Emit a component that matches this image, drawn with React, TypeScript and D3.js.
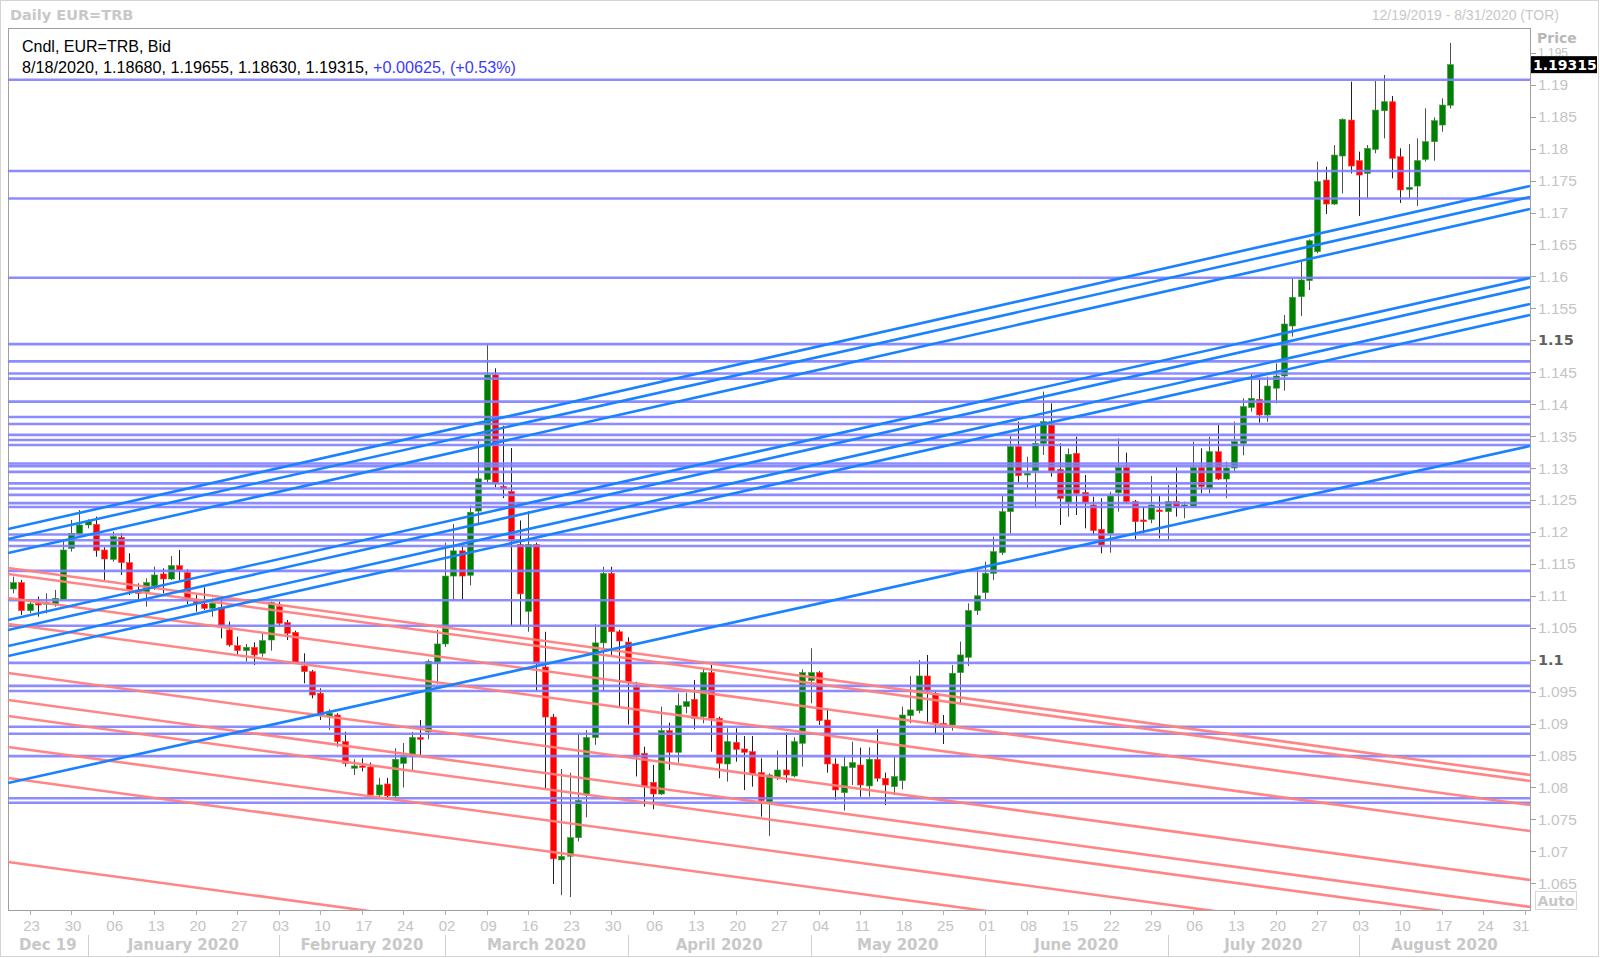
import React from "react";
import * as d3 from "d3";

// ---- Candle data (EUR=TRB daily, 12/19/2019 .. 8/18/2020), one entry per weekday ----
const opens = [
  1.11107, 1.11206, 1.10768, 1.10882, 1.10872, 1.10872, 1.10945, 1.11743, 1.11968, 1.12109,
  1.12119, 1.11717, 1.11571, 1.11916, 1.11519, 1.11091, 1.11065, 1.11154, 1.11342, 1.11263,
  1.11472, 1.11362, 1.10908, 1.10872, 1.10804, 1.10815, 1.10465, 1.1022, 1.10141, 1.10193,
  1.101, 1.10308, 1.1083, 1.1058, 1.10428, 1.09901, 1.09813, 1.09474, 1.09108, 1.09134,
  1.08717, 1.083, 1.08336, 1.0832, 1.07882, 1.08054, 1.07867, 1.08376, 1.08492, 1.08782,
  1.08869, 1.09944, 1.10246, 1.11309, 1.11704, 1.11321, 1.12326, 1.12819, 1.14458, 1.12715,
  1.12634, 1.11803, 1.10757, 1.11803, 1.09886, 1.09102, 1.06865, 1.06923, 1.07213, 1.07882,
  1.08782, 1.10263, 1.1135, 1.10437, 1.10275, 1.09566, 1.08534, 1.0808, 1.07897, 1.08889,
  1.0855, 1.09265, 1.09379, 1.09108, 1.09797, 1.09082, 1.08367, 1.08706, 1.08602, 1.0856,
  1.08231, 1.07777, 1.08158, 1.08273, 1.08179, 1.08691, 1.09672, 1.09797, 1.09056, 1.08367,
  1.07918, 1.0831, 1.08351, 1.08023, 1.0844, 1.08143, 1.08012, 1.08106, 1.09124, 1.09202,
  1.09745, 1.09473, 1.09004, 1.08978, 1.09797, 1.10037, 1.10767, 1.1105, 1.11352, 1.11675,
  1.12317, 1.13335, 1.12891, 1.12954, 1.13387, 1.13673, 1.1298, 1.12458, 1.1323, 1.1262,
  1.12421, 1.12041, 1.11978, 1.12614, 1.13006, 1.12474, 1.12187, 1.12197, 1.12343, 1.12317,
  1.12474, 1.12395, 1.12395, 1.13006, 1.12682, 1.13256, 1.12828, 1.13, 1.13387, 1.1395,
  1.14076, 1.1383, 1.1425, 1.14441, 1.15224, 1.15683, 1.15933, 1.16387, 1.17509, 1.17133,
  1.17885, 1.18448, 1.17812, 1.17613, 1.17989, 1.18594, 1.18735, 1.17874, 1.17363, 1.17415,
  1.17832, 1.18109, 1.1837, 1.1868,
];
const highs = [
  1.113, 1.11248, 1.10908, 1.10987, 1.11039, 1.11091, 1.11848, 1.12187, 1.12343, 1.12197,
  1.12239, 1.1176, 1.12004, 1.11978, 1.11665, 1.11195, 1.11274, 1.11456, 1.1143, 1.11623,
  1.11717, 1.11415, 1.11013, 1.11133, 1.10961, 1.10997, 1.10595, 1.10361, 1.10246, 1.10272,
  1.10413, 1.10908, 1.10908, 1.10621, 1.10454, 1.101, 1.09839, 1.09552, 1.09223, 1.09161,
  1.08873, 1.0844, 1.08456, 1.0839, 1.0815, 1.0815, 1.08613, 1.08695, 1.08869, 1.09055,
  1.10002, 1.10467, 1.11832, 1.12123, 1.11832, 1.12413, 1.13458, 1.1495, 1.14562, 1.13662,
  1.13313, 1.1218, 1.12326, 1.11832, 1.10437, 1.0915, 1.08288, 1.0823, 1.0884, 1.08898,
  1.10554, 1.11454, 1.11454, 1.10467, 1.1035, 1.09653, 1.08638, 1.08351, 1.09264, 1.09014,
  1.09473, 1.09483, 1.09682, 1.09864, 1.09917, 1.09108, 1.08926, 1.08926, 1.08805, 1.08805,
  1.08456, 1.08221, 1.08576, 1.08858, 1.08784, 1.0985, 1.10178, 1.0982, 1.09238, 1.08456,
  1.08482, 1.08717, 1.08623, 1.08628, 1.0891, 1.08231, 1.08482, 1.09265, 1.09745, 1.09995,
  1.10074, 1.095, 1.09134, 1.09917, 1.10283, 1.10882, 1.1143, 1.11535, 1.11926, 1.12562,
  1.13501, 1.13726, 1.13178, 1.13673, 1.14196, 1.14013, 1.13387, 1.13308, 1.13491, 1.12891,
  1.12552, 1.12526, 1.1263, 1.13465, 1.13241, 1.125, 1.12395, 1.12875, 1.12562, 1.12734,
  1.13011, 1.12474, 1.13413, 1.13308, 1.13491, 1.13673, 1.131, 1.13726, 1.14091, 1.14472,
  1.14389, 1.1443, 1.14639, 1.15396, 1.1597, 1.16231, 1.1658, 1.17796, 1.17718, 1.18057,
  1.18474, 1.19048, 1.17953, 1.18057, 1.19059, 1.19153, 1.18824, 1.18005, 1.18072, 1.18161,
  1.18631, 1.1849, 1.18788, 1.19655,
];
const lows = [
  1.11039, 1.107, 1.10726, 1.10674, 1.10726, 1.1083, 1.10935, 1.11691, 1.11952, 1.12056,
  1.11613, 1.11248, 1.11535, 1.11326, 1.11013, 1.10935, 1.1083, 1.11091, 1.11039, 1.11248,
  1.11248, 1.10872, 1.10752, 1.10778, 1.10674, 1.10334, 1.10204, 1.10089, 1.09969, 1.09917,
  1.10047, 1.10141, 1.10517, 1.10308, 1.09943, 1.0963, 1.09395, 1.09056, 1.089, 1.08639,
  1.08326, 1.08195, 1.0825, 1.07856, 1.0783, 1.07804, 1.07804, 1.07998, 1.08259, 1.08492,
  1.08753, 1.09624, 1.102, 1.10931, 1.10931, 1.11164, 1.12123, 1.1276, 1.127, 1.12529,
  1.10525, 1.10525, 1.10437, 1.09508, 1.07969, 1.06487, 1.06313, 1.06284, 1.07155, 1.07533,
  1.08666, 1.09508, 1.1006, 1.09247, 1.08985, 1.08172, 1.07699, 1.07658, 1.07882, 1.08273,
  1.08388, 1.0916, 1.0891, 1.09004, 1.0856, 1.08143, 1.08091, 1.08404, 1.07958, 1.08012,
  1.07543, 1.0724, 1.08117, 1.08075, 1.08158, 1.08325, 1.09317, 1.08978, 1.08231, 1.07804,
  1.07637, 1.08038, 1.07855, 1.07855, 1.08091, 1.07725, 1.07882, 1.0797, 1.09004, 1.0916,
  1.09014, 1.08837, 1.0868, 1.08889, 1.09317, 1.099, 1.107, 1.1095, 1.11248, 1.11639,
  1.11978, 1.12761, 1.12682, 1.12395, 1.13204, 1.12865, 1.12108, 1.12239, 1.12265, 1.12056,
  1.11952, 1.11665, 1.11675, 1.12317, 1.12448, 1.11874, 1.11978, 1.12135, 1.119, 1.11874,
  1.12239, 1.12213, 1.12395, 1.12604, 1.12604, 1.12813, 1.1253, 1.1295, 1.132, 1.13883,
  1.1371, 1.13726, 1.14013, 1.14211, 1.15057, 1.1538, 1.15787, 1.16361, 1.16977, 1.17118,
  1.173, 1.17613, 1.16945, 1.17222, 1.17927, 1.18161, 1.17535, 1.1715, 1.17222, 1.17102,
  1.17796, 1.17812, 1.18265, 1.1863,
];
const closes = [
  1.11206, 1.10768, 1.10872, 1.10856, 1.10893, 1.10961, 1.11717, 1.11978, 1.12109, 1.12161,
  1.11707, 1.11576, 1.11926, 1.11519, 1.11091, 1.11039, 1.11206, 1.11326, 1.11263, 1.11472,
  1.11404, 1.10945, 1.10893, 1.10804, 1.10882, 1.10543, 1.1023, 1.10141, 1.10193, 1.10074,
  1.10298, 1.10893, 1.10569, 1.10413, 1.09954, 1.09813, 1.09447, 1.09134, 1.09161, 1.08717,
  1.08378, 1.08336, 1.0832, 1.07882, 1.08039, 1.07867, 1.0844, 1.08492, 1.08782, 1.08753,
  1.09973, 1.10246, 1.11309, 1.11704, 1.11309, 1.12308, 1.12831, 1.14458, 1.12761, 1.12674,
  1.11861, 1.1103, 1.11803, 1.09944, 1.09102, 1.06882, 1.06923, 1.07213, 1.07794, 1.08782,
  1.10263, 1.1135, 1.10437, 1.10292, 1.09653, 1.08492, 1.08012, 1.07897, 1.08889, 1.0855,
  1.0928, 1.09343, 1.09082, 1.09797, 1.09082, 1.08378, 1.08717, 1.08597, 1.0855, 1.0821,
  1.07793, 1.08195, 1.08273, 1.08195, 1.08717, 1.09797, 1.09797, 1.09045, 1.08367, 1.0796,
  1.08325, 1.08388, 1.08038, 1.0844, 1.08143, 1.08038, 1.08169, 1.09134, 1.09213, 1.09745,
  1.09525, 1.09004, 1.08978, 1.09787, 1.10074, 1.10767, 1.11, 1.11352, 1.11691, 1.12317,
  1.13335, 1.12881, 1.12917, 1.13387, 1.13726, 1.12954, 1.12526, 1.13215, 1.12604, 1.12458,
  1.1202, 1.11795, 1.12562, 1.13006, 1.12474, 1.12161, 1.12161, 1.12421, 1.12317, 1.12474,
  1.12395, 1.12421, 1.13006, 1.12708, 1.13256, 1.12828, 1.13, 1.13413, 1.13961, 1.14091,
  1.1383, 1.14284, 1.14441, 1.15255, 1.15672, 1.15944, 1.16559, 1.17483, 1.17133, 1.179,
  1.18459, 1.17728, 1.17587, 1.18005, 1.18604, 1.18735, 1.17848, 1.17353, 1.17394, 1.17812,
  1.18109, 1.18438, 1.18683, 1.19315,
];

// ---- Drawn annotation lines ----
const horizontalLevels = [
  1.1908, 1.1765, 1.1722, 1.1598, 1.1494, 1.1467, 1.1448, 1.144, 1.1404, 1.138, 1.1369, 1.1352,
  1.1344, 1.1336, 1.1307, 1.1303, 1.1294, 1.1276, 1.1268, 1.1258, 1.1245, 1.1239, 1.1196, 1.1187,
  1.1178, 1.1139, 1.1093, 1.1053, 1.0995, 1.0959, 1.0951, 1.0895, 1.0884, 1.0849, 1.0783, 1.0776,
];
// price at left edge / right edge of the chart
const risingStart = [1.12046, 1.11889, 1.1167, 1.10621, 1.10465, 1.10214, 1.10058, 1.08069];
const risingEnd = [1.17415, 1.17243, 1.17055, 1.15975, 1.15834, 1.15568, 1.15396, 1.13345];
const fallingStart = [1.11435, 1.11341, 1.10965, 1.10558, 1.09791, 1.09369, 1.09118, 1.08633, 1.08148, 1.06833];
const fallingEnd = [1.08195, 1.08101, 1.07725, 1.07318, 1.06551, 1.06129, 1.05878, 1.05393, 1.04908, 1.03593];

const priceTicks = [1.065, 1.07, 1.075, 1.08, 1.085, 1.09, 1.095, 1.1, 1.105, 1.11, 1.115, 1.12, 1.125, 1.13, 1.135, 1.14, 1.145, 1.15, 1.155, 1.16, 1.165, 1.17, 1.175, 1.18, 1.185, 1.19, 1.195];
const boldTicks = [1.1, 1.15];
const monthNames = ["Dec 19", "January 2020", "February 2020", "March 2020", "April 2020", "May 2020", "June 2020", "July 2020", "August 2020"];
const lastPrice = 1.19315;
const headerLine1 = "Cndl, EUR=TRB, Bid";
const headerValues = "8/18/2020, 1.18680, 1.19655, 1.18630, 1.19315, ";
const headerChange = "+0.00625, (+0.53%)";

// weekday calendar 12/19/2019 .. 8/31/2020
function weekdays(): Date[] {
  const out: Date[] = [];
  const d = new Date(2019, 11, 19);
  const end = new Date(2020, 7, 31);
  while (d <= end) {
    const wd = d.getDay();
    if (wd !== 0 && wd !== 6) out.push(new Date(d));
    d.setDate(d.getDate() + 1);
  }
  return out;
}

const L = 8, R = 1530, T = 28, B = 910;
const FONT = "'Liberation Sans', Arial, sans-serif";
const BOLDFONT = "'DejaVu Sans', Verdana, sans-serif";

export default function App() {
  const days = weekdays();
  const x = d3.scaleLinear().domain([-0.6, 182.6]).range([L, R]);
  const y = d3.scaleLinear().domain([1.06081, 1.19889]).range([B, T]);
  const x0 = x.domain()[0], x1 = x.domain()[1];

  const monthStarts: number[] = [];
  days.forEach((d, i) => {
    if (i > 0 && d.getMonth() !== days[i - 1].getMonth()) monthStarts.push(i);
  });
  const bounds = [L, ...monthStarts.map((i) => x(i)), R];

  const bodyW = 6;
  const up = "#008000", down = "#ff0000";
  const boxTop = y(lastPrice) - 8.5;

  return (
    <svg width={1600} height={958} style={{ position: "absolute", left: 0, top: 0, background: "#fff" }}
      xmlns="http://www.w3.org/2000/svg">
      <defs>
        <clipPath id="plot">
          <rect x={L} y={T} width={R - L} height={B - T} />
        </clipPath>
        <clipPath id="abovebox">
          <rect x={R} y={T + 18} width={70} height={boxTop - T - 18} />
        </clipPath>
      </defs>
      <rect x={0} y={0} width={1600} height={958} fill="#fff" />
      <rect x={0.5} y={0.5} width={1598} height={956} fill="none" stroke="#d4d4d4" />
      {/* title bar */}
      <text x={10} y={15} dominantBaseline="central" fontFamily={BOLDFONT} fontWeight="bold" fontSize={14.5} fill="#c8c8c8">Daily EUR=TRB</text>
      <text x={1559} y={15} dominantBaseline="central" textAnchor="end" fontFamily={FONT} fontSize={14} fill="#c8c8c8">12/19/2019 - 8/31/2020 (TOR)</text>

      {/* plot frame */}
      <rect x={L + 0.5} y={T + 0.5} width={R - L} height={B - T} fill="#fff" stroke="#a0a0a0" />

      <g clipPath="url(#plot)">
        {opens.map((o, i) => {
          const c = closes[i];
          const isUp = c >= o;
          const cx = Math.round(x(i)) + 0.5;
          const top = y(Math.max(o, c));
          const bot = y(Math.min(o, c));
          return (
            <g key={i}>
              <line x1={cx} x2={cx} y1={y(highs[i])} y2={y(lows[i])} stroke={isUp ? "#505050" : "#202020"} strokeWidth={1} />
              <rect x={cx - bodyW / 2} y={top} width={bodyW} height={Math.max(1.5, bot - top)}
                fill={isUp ? up : down} stroke={isUp ? "#3a9a3a" : "#ff4040"} strokeWidth={0.6} />
            </g>
          );
        })}
        {horizontalLevels.map((v, i) => (
          <line key={"h" + i} x1={L} x2={R} y1={y(v)} y2={y(v)} stroke="#7f7fff" strokeOpacity={0.9} strokeWidth={2.6} />
        ))}
        {fallingStart.map((v, i) => (
          <line key={"f" + i} x1={x(x0)} x2={x(x1)} y1={y(v)} y2={y(fallingEnd[i])} stroke="#ff7f7f" strokeOpacity={0.95} strokeWidth={2.6} />
        ))}
        {risingStart.map((v, i) => (
          <line key={"r" + i} x1={x(x0)} x2={x(x1)} y1={y(v)} y2={y(risingEnd[i])} stroke="#1a82ff" strokeWidth={2.6} />
        ))}
      </g>

      {/* header inside plot */}
      <text x={22} y={46} dominantBaseline="central" fontFamily={FONT} fontSize={16} fill="#000">{headerLine1}</text>
      <text x={22} y={67} dominantBaseline="central" fontFamily={FONT} fontSize={16} fill="#000" textLength={494} lengthAdjust="spacingAndGlyphs">
        <tspan>{headerValues}</tspan>
        <tspan fill="#3b3bff">{headerChange}</tspan>
      </text>

      {/* price axis */}
      <text x={1537} y={38} dominantBaseline="central" fontFamily={BOLDFONT} fontWeight="bold" fontSize={14} fill="#b8b8b8">Price</text>
      {priceTicks.map((v) => {
        const isBold = boldTicks.some((b) => Math.abs(b - v) < 1e-9);
        const hidden = y(v) + 8 > boxTop && y(v) - 8 < boxTop + 17;
        return (
          <g key={v} clipPath={hidden ? "url(#abovebox)" : undefined}>
            <line x1={R} x2={R + 6} y1={Math.round(y(v)) + 0.5} y2={Math.round(y(v)) + 0.5} stroke="#a0a0a0" />
            <text x={R + 8} y={y(v)} dominantBaseline="central" fontFamily={isBold ? BOLDFONT : FONT}
              fontWeight={isBold ? "bold" : "normal"} fontSize={isBold ? 14.5 : hidden ? 12 : 15.5} fill={isBold ? "#606060" : "#c4c4c4"}>
              {d3.format("")(+v.toFixed(3))}
            </text>
          </g>
        );
      })}
      <rect x={R + 1} y={boxTop} width={1597 - R - 1} height={17} fill="#000" />
      <text x={R + 3} y={y(lastPrice)} dominantBaseline="central" fontFamily={BOLDFONT} fontWeight="bold" fontSize={14} fill="#fff">{lastPrice.toFixed(5)}</text>
      <rect x={1535.5} y={891.5} width={41} height={18} fill="#fff" stroke="#d8d8d8" />
      <text x={1556} y={901} dominantBaseline="central" textAnchor="middle" fontFamily={BOLDFONT} fontWeight="bold" fontSize={14} fill="#c8c8c8">Auto</text>

      {/* time axis */}
      {days.map((d, i) => d.getDay() === 1 ? (
        <g key={"d" + i}>
          <line x1={Math.round(x(i)) + 0.5} x2={Math.round(x(i)) + 0.5} y1={B} y2={B + 5} stroke="#b0b0b0" />
          <text x={Math.min(x(i) + 2, 1521)} y={925} dominantBaseline="central" textAnchor="middle" fontFamily={FONT} fontSize={15} fill="#c4c4c4">
            {d3.timeFormat("%d")(d)}
          </text>
        </g>
      ) : null)}
      {monthStarts.map((i) => (
        <line key={"m" + i} x1={Math.round(x(i)) + 0.5} x2={Math.round(x(i)) + 0.5} y1={935} y2={957} stroke="#d0d0d0" />
      ))}
      {monthNames.map((m, k) => (
        <text key={m} x={(bounds[k] + bounds[k + 1]) / 2} y={945} dominantBaseline="central" textAnchor="middle"
          fontFamily={BOLDFONT} fontWeight="bold" fontSize={15} fill="#c8c8c8">{m}</text>
      ))}
    </svg>
  );
}
